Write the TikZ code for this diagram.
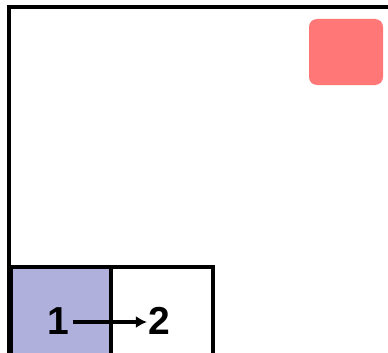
\documentclass[tikz,border=0pt]{standalone}
\usepackage{fontspec}
\setmainfont{Liberation Sans}
\usetikzlibrary{arrows.meta}
\definecolor{boxblue}{RGB}{176,176,220}
\definecolor{boxred}{RGB}{255,119,119}
\begin{document}
\begin{tikzpicture}[x=1pt,y=-1pt,
  frame/.style={draw=black,line width=4pt},
  num/.style={font=\bfseries\fontsize{39}{39}\selectfont,inner sep=0pt}]
\useasboundingbox (0,0) rectangle (388,353);
\clip (0,0) rectangle (388,353);
\draw[frame] (8.5,7) rectangle (420,420);
\fill[boxred,rounded corners=8pt] (309,19) rectangle (383,85);
\node[frame,fill=boxblue,minimum width=100pt,minimum height=100pt,anchor=north west,inner sep=0pt] (sq1) at (8.5,265) {};
\node[frame,fill=white,minimum width=102pt,minimum height=100pt,anchor=north west,inner sep=0pt] (sq2) at (108.5,265) {};
\node[num] (n1) at (58,321) {1};
\node[num] (n2) at (159,321) {2};
\draw[line width=4.5pt,-{Latex[length=11pt,width=12pt]}] ([xshift=4pt,yshift=-1pt]n1.east) -- ([xshift=-1pt,yshift=-1pt]n2.west);
\end{tikzpicture}
\end{document}
